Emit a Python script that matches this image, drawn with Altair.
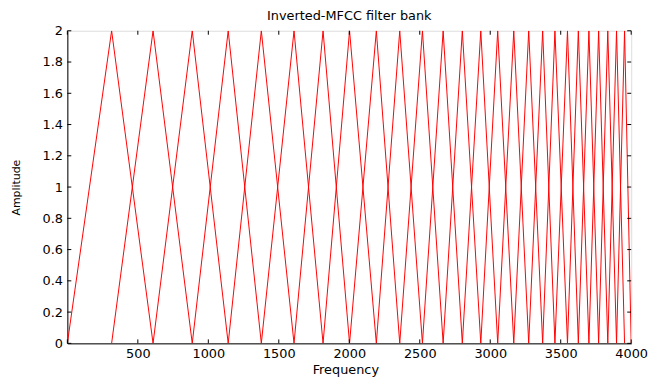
import altair as alt
import pandas as pd

# Band-edge / centre frequencies of the inverted-MFCC triangular filters (Hz)
edge_freqs = [0, 314, 608, 886, 1141, 1376, 1608, 1814, 2002, 2192, 2358, 2519,
              2666, 2802, 2933, 3053, 3167, 3273, 3372, 3459, 3548, 3625, 3700,
              3769, 3834, 3896, 3953, 4000]
peak_amp = 2.0
x_ticks = [0, 500, 1000, 1500, 2000, 2500, 3000, 3500, 4000]
x_labels = [500, 1000, 1500, 2000, 2500, 3000, 3500, 4000]
y_ticks = [0, 0.2, 0.4, 0.6, 0.8, 1, 1.2, 1.4, 1.6, 1.8, 2]

rows = []
for k in range(1, len(edge_freqs) - 1):
    rows.append({"filter": k, "order": 0, "freq": edge_freqs[k - 1], "amp": 0.0})
    rows.append({"filter": k, "order": 1, "freq": edge_freqs[k], "amp": peak_amp})
    rows.append({"filter": k, "order": 2, "freq": edge_freqs[k + 1], "amp": 0.0})
df = pd.DataFrame(rows)

W, H = 570, 316
FONT = "DejaVu Sans"
TL = 4

xs = alt.Scale(domain=[0, 4000], nice=False, zero=False)
ys = alt.Scale(domain=[0, 2], nice=False, zero=False)

x_axis = alt.Axis(values=x_labels, format="d", title="Frequency", grid=False,
                  tickSize=0, labelPadding=4, labelFlush=False, labelOverlap=False,
                  domainColor="black",
                  labelFont=FONT, labelFontSize=13, labelColor="black",
                  titleFont=FONT, titleFontSize=13, titleFontWeight="normal",
                  titleColor="black", titleY=30, titleBaseline="alphabetic",
                  titleX=W / 2 - 4, titleAlign="center")
y_axis = alt.Axis(values=y_ticks, format=".1~f", title="Amplitude", grid=False,
                  tickSize=0, labelPadding=5, labelOverlap=False,
                  domainColor="black",
                  labelFont=FONT, labelFontSize=13, labelColor="black",
                  titleFont=FONT, titleFontSize=11, titleFontWeight="normal",
                  titleColor="black", titleX=-51, titleY=H / 2,
                  titleAlign="center", titleBaseline="middle", titleAngle=-90)

lines = alt.Chart(df).mark_line(color="#ff0000", strokeWidth=1, clip=True).encode(
    x=alt.X("freq:Q", scale=xs, axis=x_axis),
    y=alt.Y("amp:Q", scale=ys, axis=y_axis),
    detail="filter:N",
    order="order:Q",
)

xt = pd.DataFrame({"v": x_ticks})
yt = pd.DataFrame({"v": y_ticks})

xtick_bottom = alt.Chart(xt).mark_rule(color="black", strokeWidth=1).encode(
    x=alt.X("v:Q", scale=xs, axis=x_axis), y=alt.value(H - TL), y2=alt.value(H))
xtick_top = alt.Chart(xt).mark_rule(color="black", strokeWidth=1).encode(
    x=alt.X("v:Q", scale=xs, axis=x_axis), y=alt.value(0), y2=alt.value(TL))
ytick_left = alt.Chart(yt).mark_rule(color="black", strokeWidth=1).encode(
    y=alt.Y("v:Q", scale=ys, axis=y_axis), x=alt.value(0), x2=alt.value(TL))
ytick_right = alt.Chart(yt).mark_rule(color="black", strokeWidth=1).encode(
    y=alt.Y("v:Q", scale=ys, axis=y_axis), x=alt.value(W - TL), x2=alt.value(W))

chart = alt.layer(lines, xtick_bottom, xtick_top, ytick_left, ytick_right).properties(
    width=W, height=H,
    title=alt.TitleParams("Inverted-MFCC filter bank", font=FONT, fontSize=13,
                          fontWeight="normal", color="black", anchor="middle",
                          baseline="alphabetic", offset=0, dy=8),
    autosize=alt.AutoSizeParams(type="none"),
    padding={"left": 60, "top": 21, "right": 18, "bottom": 32},
).configure_view(stroke="black", strokeWidth=1).configure_axis(
    labelOverlap=False
).configure(background="white")

chart.save("out.html", embed_options={"renderer": "svg", "actions": False})
